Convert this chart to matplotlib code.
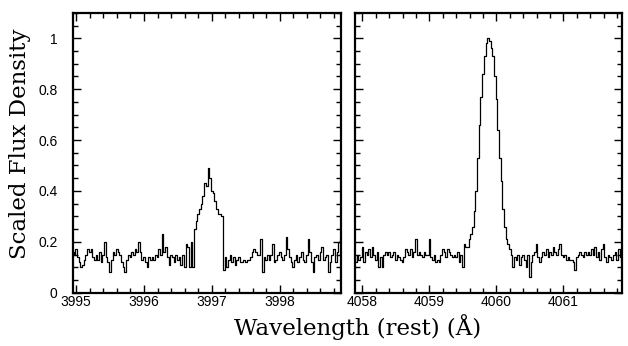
import numpy as np
import matplotlib
matplotlib.use("Agg")
import matplotlib.pyplot as plt
from matplotlib.ticker import MultipleLocator, FuncFormatter

# Wavelength grids (rest frame, Angstrom) for the two line windows
blue_start, blue_step = 3994.95, 0.025
red_start, red_step = 4057.875, 0.025

# Scaled flux density, window around 3997 A
blue_flux = [
    0.16, 0.15, 0.17, 0.14, 0.12, 0.10, 0.11, 0.13, 0.15, 0.17,
    0.16, 0.17, 0.14, 0.13, 0.15, 0.13, 0.16, 0.12, 0.15, 0.20,
    0.14, 0.12, 0.08, 0.13, 0.16, 0.15, 0.17, 0.16, 0.15, 0.12,
    0.10, 0.08, 0.13, 0.15, 0.14, 0.16, 0.15, 0.17, 0.16, 0.20,
    0.16, 0.13, 0.14, 0.12, 0.10, 0.14, 0.13, 0.14, 0.13, 0.15,
    0.14, 0.17, 0.15, 0.23, 0.16, 0.18, 0.14, 0.11, 0.15, 0.14,
    0.12, 0.15, 0.13, 0.14, 0.11, 0.15, 0.10, 0.19, 0.18, 0.10,
    0.20, 0.10,
    0.25, 0.28, 0.31, 0.33, 0.35, 0.38, 0.43, 0.42, 0.49, 0.45,
    0.40, 0.39, 0.36, 0.33, 0.31, 0.31, 0.30, 0.09,
    0.14, 0.10, 0.13, 0.15, 0.12, 0.14, 0.11, 0.13, 0.14, 0.12,
    0.12, 0.13, 0.12, 0.13, 0.13, 0.14, 0.16, 0.17, 0.16, 0.15,
    0.15, 0.21, 0.08, 0.14, 0.13, 0.15, 0.13, 0.15, 0.19, 0.12,
    0.13, 0.15, 0.16, 0.14, 0.13, 0.15, 0.22, 0.17, 0.14, 0.12,
    0.10, 0.13, 0.15, 0.12, 0.14, 0.16, 0.13, 0.12, 0.15, 0.21,
    0.16, 0.12, 0.08, 0.14, 0.15, 0.13, 0.16, 0.18, 0.13, 0.14,
    0.15, 0.08, 0.12, 0.15, 0.17, 0.12, 0.16, 0.20, 0.21,
]

# Scaled flux density, window around 4060 A
red_flux = [
    0.14, 0.12, 0.15, 0.13, 0.14, 0.18, 0.12, 0.16, 0.15, 0.17,
    0.14, 0.18, 0.15, 0.13, 0.16, 0.10, 0.14, 0.10, 0.15, 0.16,
    0.15, 0.16, 0.14, 0.15, 0.16, 0.13, 0.15, 0.14, 0.13, 0.12,
    0.14, 0.17, 0.16, 0.15, 0.17, 0.14, 0.16, 0.21, 0.15, 0.16,
    0.15, 0.14, 0.16, 0.15, 0.15, 0.21, 0.14, 0.13, 0.15, 0.12,
    0.13, 0.12, 0.15, 0.17, 0.16, 0.14, 0.17, 0.16, 0.15, 0.14,
    0.15, 0.14, 0.16, 0.12, 0.15, 0.10, 0.19, 0.18,
    0.18, 0.21, 0.23, 0.26, 0.32, 0.40, 0.53, 0.66, 0.77, 0.86,
    0.93, 0.98, 1.00, 0.99, 0.96, 0.93, 0.85, 0.76, 0.64, 0.53,
    0.44, 0.33, 0.26, 0.21, 0.19, 0.17, 0.15, 0.10, 0.14,
    0.13, 0.15, 0.11,
    0.14, 0.15, 0.13, 0.10, 0.15, 0.06, 0.12, 0.15, 0.16, 0.19,
    0.14, 0.12, 0.14, 0.16, 0.15, 0.17, 0.14, 0.16, 0.15, 0.18,
    0.16, 0.15, 0.17, 0.19, 0.15, 0.14, 0.15, 0.13, 0.14, 0.13,
    0.13, 0.12, 0.09, 0.14, 0.15, 0.16, 0.15, 0.14, 0.16, 0.15,
    0.16, 0.15, 0.17, 0.15, 0.18, 0.14, 0.16, 0.13, 0.17, 0.19,
    0.14, 0.12, 0.15, 0.14, 0.13, 0.15, 0.16, 0.13, 0.17, 0.14, 0.12,
]

blue_wave = blue_start + blue_step * np.arange(len(blue_flux))
red_wave = red_start + red_step * np.arange(len(red_flux))

blue_xlim = (3994.95, 3998.9)
red_xlim = (4057.89, 4061.87)
y_range = (0.0, 1.1)
y_ticks = [0, 0.2, 0.4, 0.6, 0.8, 1.0]

fig = plt.figure(figsize=(6.28, 3.46), dpi=100)
ax1 = fig.add_axes([0.1158, 0.154, 0.4268, 0.809])
ax2 = fig.add_axes([0.5653, 0.154, 0.4247, 0.809])

tick_font = {"family": "Liberation Sans", "size": 10}
label_font = {"family": "DejaVu Serif", "size": 16.5}

for ax, wave, flux, xlim in ((ax1, blue_wave, blue_flux, blue_xlim),
                             (ax2, red_wave, red_flux, red_xlim)):
    ax.plot(wave, flux, drawstyle="steps-mid", color="black", lw=0.9)
    ax.set_xlim(*xlim)
    ax.set_ylim(*y_range)
    ax.xaxis.set_major_locator(MultipleLocator(1.0))
    ax.xaxis.set_minor_locator(MultipleLocator(0.2))
    ax.set_yticks(y_ticks)
    ax.yaxis.set_minor_locator(MultipleLocator(0.05))
    ax.tick_params(which="both", direction="in", top=True, right=True,
                   width=1.0, colors="black")
    ax.tick_params(which="major", length=6)
    ax.tick_params(which="minor", length=3.5)
    ax.tick_params(axis="x", which="major", pad=2)
    ax.xaxis.set_major_formatter(FuncFormatter(lambda v, p: f"{v:.0f}"))
    for lab in ax.get_xticklabels():
        lab.set_fontfamily(tick_font["family"])
        lab.set_fontsize(tick_font["size"])
    for sp in ax.spines.values():
        sp.set_linewidth(1.6)

ax1.yaxis.set_major_formatter(FuncFormatter(lambda v, p: f"{v:g}"))
ax1.tick_params(axis="y", which="major", pad=11)
for lab in ax1.get_yticklabels():
    lab.set_fontfamily(tick_font["family"])
    lab.set_fontsize(tick_font["size"])
ax2.tick_params(axis="y", labelleft=False)

fig.text(0.032, 0.585, "Scaled Flux Density", rotation=90,
         ha="center", va="center", **label_font)
fig.text(0.569, 0.055, "Wavelength (rest) (Å)",
         ha="center", va="center", **label_font)

fig.savefig("out.png", dpi=100)
